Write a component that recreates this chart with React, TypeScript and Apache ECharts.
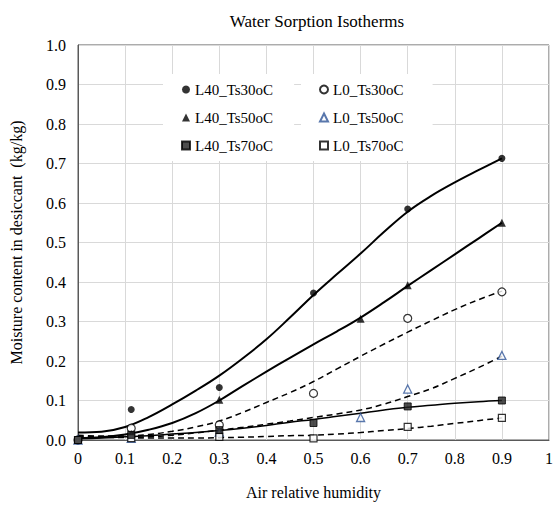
import React, { useEffect, useRef } from "react";
import * as echarts from "echarts";

// Measured points (air relative humidity vs. moisture content kg/kg)
const rhMain = [0, 0.113, 0.3, 0.5, 0.7, 0.9];
const rhTs50 = [0, 0.113, 0.3, 0.6, 0.7, 0.9];

const L40_Ts30 = [0, 0.077, 0.133, 0.372, 0.585, 0.713];
const L0_Ts30 = [0, 0.03, 0.038, 0.118, 0.308, 0.375];
const L40_Ts50 = [0, 0.015, 0.102, 0.307, 0.392, 0.55];
const L0_Ts50 = [0, 0.004, 0.02, 0.057, 0.129, 0.214];
const L40_Ts70 = [0, 0.013, 0.025, 0.043, 0.085, 0.1];
const L0_Ts70 = [0, 0.005, 0.008, 0.004, 0.033, 0.056];

// Trend lines
const trendX = [0, 0.05, 0.1, 0.15, 0.2, 0.25, 0.3, 0.35, 0.4, 0.45, 0.5, 0.55, 0.6, 0.65, 0.7, 0.75, 0.8, 0.85, 0.9];
const trendL40_Ts30 = [0.019, 0.021, 0.033, 0.058, 0.09, 0.125, 0.163, 0.207, 0.255, 0.31, 0.367, 0.42, 0.472, 0.527, 0.578, 0.618, 0.652, 0.683, 0.713];
const trendL40_Ts50 = [0.005, 0.007, 0.014, 0.026, 0.043, 0.068, 0.1, 0.137, 0.173, 0.208, 0.242, 0.275, 0.31, 0.349, 0.39, 0.43, 0.47, 0.51, 0.55];
const trendL40_Ts70 = [0.003, 0.005, 0.008, 0.011, 0.015, 0.019, 0.024, 0.03, 0.037, 0.045, 0.052, 0.06, 0.068, 0.076, 0.083, 0.088, 0.093, 0.097, 0.1];
const trendL0_Ts30 = [0.012, 0.01, 0.01, 0.014, 0.022, 0.033, 0.048, 0.07, 0.095, 0.12, 0.148, 0.18, 0.212, 0.243, 0.273, 0.302, 0.33, 0.355, 0.377];
const trendL0_Ts50 = [0.01, 0.008, 0.007, 0.008, 0.012, 0.018, 0.025, 0.032, 0.04, 0.048, 0.057, 0.066, 0.076, 0.091, 0.11, 0.13, 0.156, 0.183, 0.212];
const trendL0_Ts70 = [0.008, 0.007, 0.006, 0.005, 0.005, 0.005, 0.006, 0.007, 0.009, 0.011, 0.012, 0.015, 0.019, 0.024, 0.029, 0.035, 0.042, 0.049, 0.056];

const legendLeft = ["L40_Ts30oC", "L40_Ts50oC", "L40_Ts70oC"];
const legendRight = ["L0_Ts30oC", "L0_Ts50oC", "L0_Ts70oC"];

const FONT = "'Liberation Serif', 'Times New Roman', serif";

const pair = (xs: number[], ys: number[]) => xs.map((x, i) => [x, ys[i]]);

export default function App() {
  const ref = useRef<HTMLDivElement>(null);
  useEffect(() => {
    if (!ref.current) return;
    const chart = echarts.init(ref.current, null, { renderer: "svg" });

    const scatter = (name: string, xs: number[], ys: number[], symbol: string, size: number, itemStyle: any) => ({
      name,
      type: "scatter",
      data: pair(xs, ys),
      symbol,
      symbolSize: size,
      itemStyle,
      z: 5,
    });
    const trend = (ys: number[], dashed: boolean, width: number) => ({
      type: "line",
      data: pair(trendX, ys),
      smooth: 0.4,
      showSymbol: false,
      symbol: "none",
      silent: true,
      lineStyle: { color: "#000", width, type: dashed ? [6, 4] : "solid" },
      z: 3,
    });

    const filled = { color: "#000", borderColor: "#000", borderWidth: 0 };
    const open = { color: "#fff", borderColor: "#000", borderWidth: 1.2 };

    const legendCommon = {
      orient: "vertical",
      top: 74,
      itemGap: 13,
      itemWidth: 8,
      itemHeight: 8,
      backgroundColor: "#fff",
      textStyle: { fontFamily: FONT, fontSize: 15, color: "#000" },
    };

    chart.setOption({
      animation: false,
      backgroundColor: "#fff",
      title: {
        text: "Water Sorption Isotherms",
        left: 312,
        top: 8,
        textAlign: "center",
        textStyle: { fontFamily: FONT, fontSize: 17, fontWeight: "normal", color: "#000" },
      },
      legend: [
        { ...legendCommon, data: legendLeft, left: 163, padding: [8, 21, 8, 18] },
        { ...legendCommon, data: legendRight, left: 301, padding: [8, 29, 8, 18] },
      ],
      grid: {
        left: 78,
        right: 10,
        top: 45,
        bottom: 60,
        show: true,
        borderColor: "#595959",
        borderWidth: 1,
        backgroundColor: "transparent",
      },
      xAxis: {
        type: "value",
        min: 0,
        max: 1,
        interval: 0.1,
        name: "Air relative humidity",
        nameLocation: "middle",
        nameGap: 44,
        nameTextStyle: { fontFamily: FONT, fontSize: 16, color: "#000" },
        axisLine: { show: true, lineStyle: { color: "#595959", width: 1 } },
        axisTick: { show: false },
        axisLabel: {
          fontFamily: FONT,
          fontSize: 16,
          color: "#000",
          margin: 10,
          formatter: (v: number) => (Math.abs(v) < 1e-9 ? "0" : Math.abs(v - 1) < 1e-9 ? "1" : v.toFixed(1)),
        },
        splitLine: { show: true, lineStyle: { color: "#d9d9d9", width: 1 } },
      },
      yAxis: {
        type: "value",
        min: 0,
        max: 1,
        interval: 0.1,
        name: "Moisture content in desiccant  (kg/kg)",
        nameLocation: "middle",
        nameGap: 54,
        nameTextStyle: { fontFamily: FONT, fontSize: 16, color: "#000" },
        axisLine: { show: true, lineStyle: { color: "#595959", width: 1 } },
        axisTick: { show: false },
        axisLabel: {
          fontFamily: FONT,
          fontSize: 16,
          color: "#000",
          margin: 12,
          formatter: (v: number) => v.toFixed(1),
        },
        splitLine: { show: true, lineStyle: { color: "#d9d9d9", width: 1 } },
      },
      series: [
        trend(trendL40_Ts30, false, 2),
        trend(trendL40_Ts50, false, 2),
        trend(trendL40_Ts70, false, 1.5),
        trend(trendL0_Ts30, true, 1.5),
        trend(trendL0_Ts50, true, 1.5),
        trend(trendL0_Ts70, true, 1.5),
        scatter("L40_Ts30oC", rhMain, L40_Ts30, "circle", 7, filled),
        scatter("L0_Ts30oC", rhMain, L0_Ts30, "circle", 8, open),
        scatter("L40_Ts50oC", rhTs50, L40_Ts50, "triangle", 8, filled),
        scatter("L0_Ts50oC", rhTs50, L0_Ts50, "triangle", 8, { color: "#fff", borderColor: "#2F5597", borderWidth: 1.3 }),
        scatter("L0_Ts70oC", rhMain, L0_Ts70, "rect", 7, open),
        scatter("L40_Ts70oC", rhMain, L40_Ts70, "rect", 7, { color: "#222", borderColor: "#000", borderWidth: 1 }),
      ],
    });
    return () => chart.dispose();
  }, []);
  return <div ref={ref} style={{ position: "fixed", left: 0, top: 0, width: 559, height: 505 }} />;
}
